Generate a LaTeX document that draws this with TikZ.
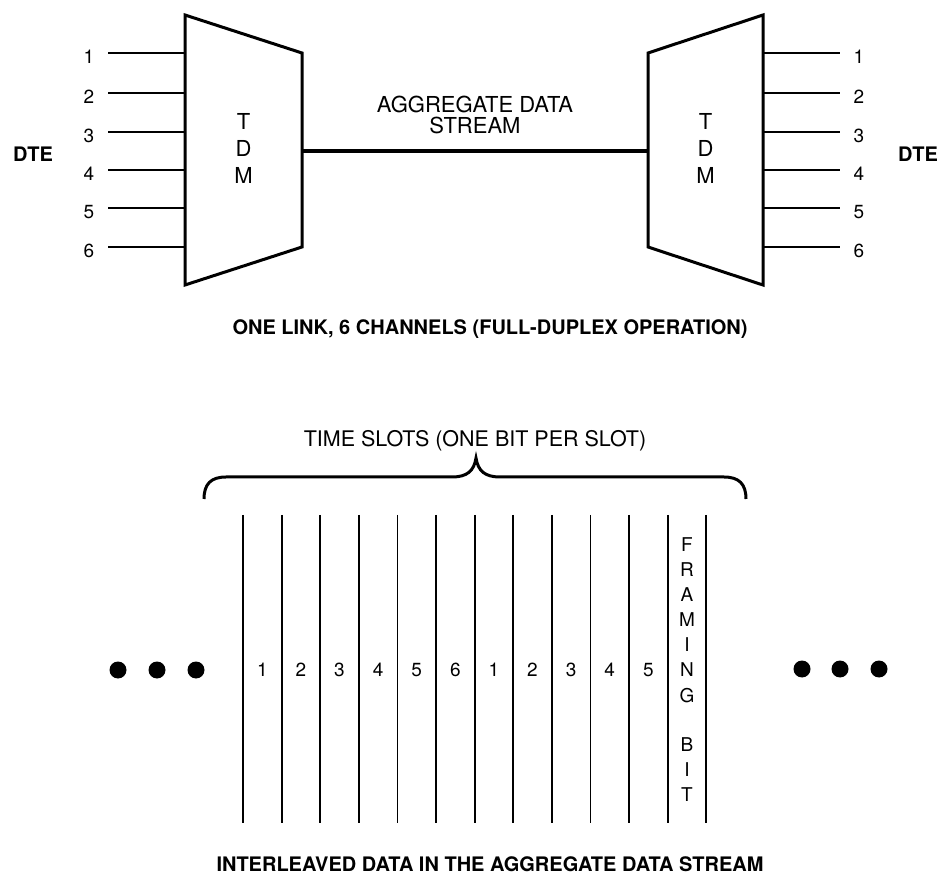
\documentclass[tikz,border=0pt]{standalone}
\usepackage{fontspec}
\setmainfont{TeX Gyre Heros}
\begin{document}
\begin{tikzpicture}[x=1pt,y=-1pt,
  lbl/.style={inner sep=0pt, text depth=0pt, font=\fontsize{19}{20}\selectfont},
  txt/.style={inner sep=0pt, align=center, font=\fontsize{22}{21}\selectfont},
  tdm/.style={inner sep=0pt, align=center, font=\fontsize{22}{27}\selectfont},
  dte/.style={inner sep=0pt, text depth=0pt, font=\fontsize{20}{20}\selectfont\bfseries},
  capt/.style={inner sep=0pt, text depth=0pt, font=\fontsize{20}{24}\selectfont\bfseries},
  ttl/.style={inner sep=0pt, text depth=0pt, font=\fontsize{21.5}{24}\selectfont},
  mux/.style={line width=3pt, line join=miter},
  chan/.style={line width=1.8pt},
  slot/.style={line width=1.8pt},
  agg/.style={line width=3.5pt},
  brace/.style={line width=3pt, line cap=butt},
  dot/.style={circle, fill=black, inner sep=0pt, minimum size=17pt}]
\useasboundingbox (0,0) rectangle (938,882);

% ---------- left TDM ----------
\coordinate (LTL) at (185,15);
\coordinate (LBL) at (185,285);
\coordinate (LTR) at (302,53);
\coordinate (LBR) at (302,247);
\draw[mux] (LTL) -- (LTR) -- (LBR) -- (LBL) -- cycle;
\node[tdm, anchor=north] (ltdm) at (243.5,113) {T\\D\\M};

% ---------- right TDM ----------
\coordinate (RTR) at (763,15);
\coordinate (RBR) at (763,285);
\coordinate (RTL) at (648,53);
\coordinate (RBL) at (648,247);
\draw[mux] (RTL) -- (RTR) -- (RBR) -- (RBL) -- cycle;
\node[tdm, anchor=north] (rtdm) at (705.5,113) {T\\D\\M};

% ---------- channels ----------
\foreach \i/\y in {1/53,2/93,3/132,4/170,5/208,6/247} {
  \coordinate (LP\i) at (185,\y);
  \coordinate (LE\i) at (108,\y);
  \node[lbl] (LN\i) at (89,{\y+4}) {\i};
  \draw[chan] (LE\i) -- (LP\i);
  \coordinate (RP\i) at (763,\y);
  \coordinate (RE\i) at (840,\y);
  \node[lbl] (RN\i) at (859,{\y+4}) {\i};
  \draw[chan] (RP\i) -- (RE\i);
}

\node[dte] (dteL) at (33,154) {DTE};
\node[dte] (dteR) at (918,154) {DTE};

% ---------- aggregate link ----------
\coordinate (LM) at (302,151);
\coordinate (RM) at (648,151);
\draw[agg] (LM) -- (RM);
\node[txt, anchor=north] (aggl) at (475,96) {AGGREGATE DATA\\STREAM};

\node[capt] (cap1) at (490,327) {ONE LINK, 6 CHANNELS (FULL-DUPLEX OPERATION)};

% ---------- time slots ----------
\node[ttl] (ts) at (475,438) {TIME SLOTS (ONE BIT PER SLOT)};
\coordinate (brL) at (204,499);
\coordinate (brTip) at (476,458);
\coordinate (brR) at (746,499);
\draw[brace] (brL) .. controls (204,484) and (211,477) .. (226,477) -- (452,477)
  .. controls (467,477) and (474,471) .. (brTip)
  .. controls (478,471) and (485,477) .. (500,477) -- (724,477)
  .. controls (739,477) and (746,484) .. (brR);

\foreach \k in {0,...,12} {
  \coordinate (T\k) at ({243+38.6*\k},515);
  \coordinate (B\k) at ({243+38.6*\k},823);
  \draw[slot] (T\k) -- (B\k);
}
\foreach \k/\t in {0/1,1/2,2/3,3/4,4/5,5/6,6/1,7/2,8/3,9/4,10/5} {
  \node[lbl] (S\k) at ({262.3+38.6*\k},670) {\t};
}
\foreach \i/\c in {0/F,1/R,2/A,3/M,4/I,5/N,6/G,8/B,9/I,10/T} {
  \node[lbl] (F\i) at (687,{545+25*\i}) {\c};
}

% ---------- dots ----------
\node[dot] (dl1) at (118,670) {};
\node[dot] (dl2) at (157,670) {};
\node[dot] (dl3) at (196,670) {};
\node[dot] (dr1) at (802,669) {};
\node[dot] (dr2) at (840,669) {};
\node[dot] (dr3) at (879,669) {};

\node[capt] (cap2) at (490,864) {INTERLEAVED DATA IN THE AGGREGATE DATA STREAM};
\end{tikzpicture}
\end{document}
